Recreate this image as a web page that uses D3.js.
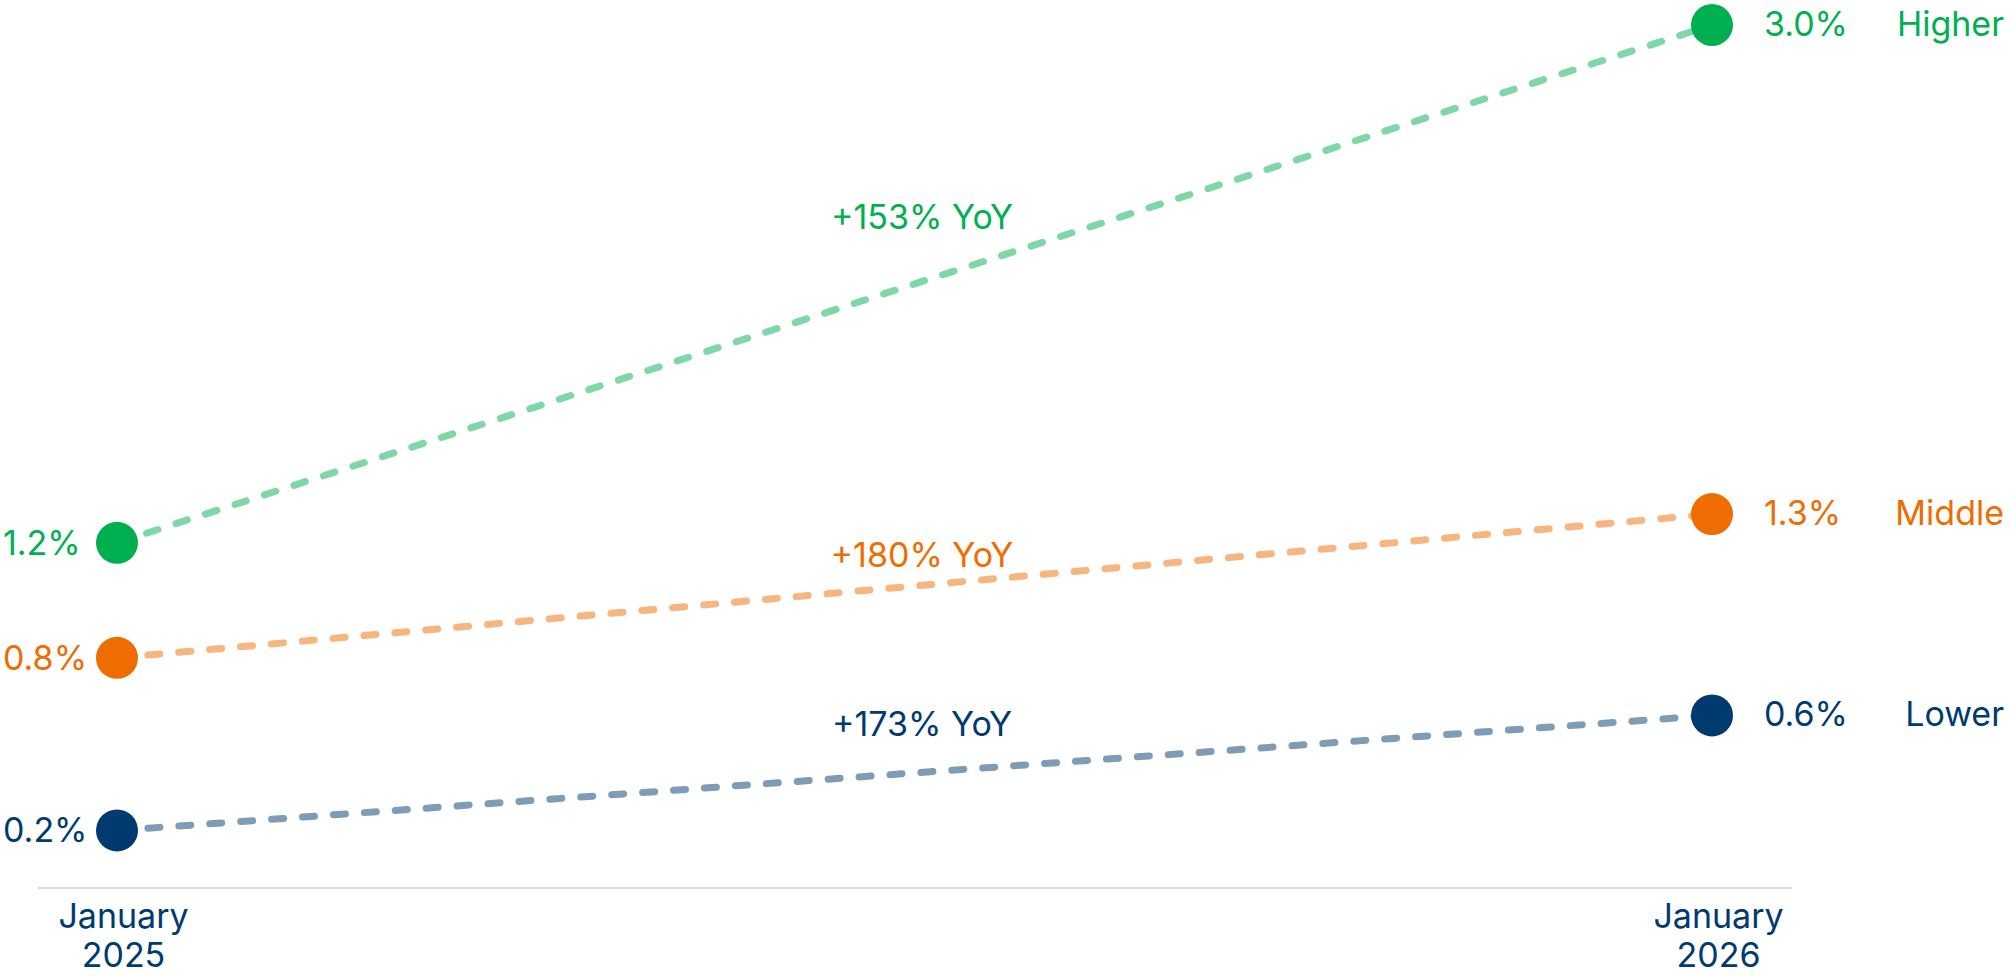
<!DOCTYPE html>
<html>
<head>
<meta charset="utf-8">
<script src="https://cdn.jsdelivr.net/npm/d3@7"></script>
<style>
  html, body { margin: 0; padding: 0; background: #ffffff; }
  svg { display: block; }
  text { font-family: Inter, "Open Sans", "DejaVu Sans", sans-serif; }
</style>
</head>
<body>
<svg id="chart" width="2009" height="976"></svg>
<script>
// ---- data ----
const periods = ["January 2025", "January 2026"];
const seriesNames = ["Higher", "Middle", "Lower"];
const startValues = [1.2, 0.8, 0.2];
const endValues = [3.0, 1.3, 0.6];
const yoyLabels = ["+153% YoY", "+180% YoY", "+173% YoY"];

// ---- styles ----
const seriesColors = ["#00b050", "#ef6c00", "#003a70"];

// ---- layout ----
const baselineY = 888;
const topY = 25;
const dotR = 21;
const fontSize = 34;
const yoyX = 922;
const yoyBaselines = [229, 567, 736];

const svg = d3.select("#chart");

const x = d3.scalePoint().domain(periods).range([117, 1712]);
const y = d3.scaleLinear().domain([0, 3.0]).range([baselineY, topY]);

const series = seriesNames.map((name, i) => ({
  name,
  color: seriesColors[i],
  yoy: yoyLabels[i],
  yoyY: yoyBaselines[i],
  points: [
    { period: periods[0], value: startValues[i] },
    { period: periods[1], value: endValues[i] }
  ]
}));

// baseline rule
svg.append("line")
  .attr("x1", 38).attr("x2", 1792)
  .attr("y1", y(0)).attr("y2", y(0))
  .attr("stroke", "#d9d9d9")
  .attr("stroke-width", 2);

// x axis labels, split over two lines
const xAxis = d3.axisBottom(x).tickSize(0);
const axisG = svg.append("g")
  .attr("transform", `translate(0,${y(0)})`)
  .call(xAxis);
axisG.select(".domain").remove();
axisG.selectAll(".tick text").remove();
axisG.selectAll(".tick").each(function(d) {
  const parts = d.split(" ");
  const t = d3.select(this).append("text")
    .attr("text-anchor", "middle")
    .attr("fill", "#003a70")
    .attr("font-size", fontSize);
  parts.forEach((p, k) => {
    t.append("tspan").attr("x", 0).attr("dx", 6).attr("y", 40 + k * 39).text(p);
  });
});

// dashed connectors
const line = d3.line().x(d => x(d.period)).y(d => y(d.value));
svg.append("g").selectAll("path")
  .data(series)
  .join("path")
  .attr("d", d => line(d.points))
  .attr("fill", "none")
  .attr("stroke", d => d.color)
  .attr("stroke-opacity", 0.5)
  .attr("stroke-width", 7)
  .attr("stroke-linecap", "round")
  .attr("stroke-dasharray", "12 19");

// dots
svg.append("g").selectAll("g")
  .data(series)
  .join("g")
  .each(function(s) {
    d3.select(this).selectAll("circle")
      .data(s.points)
      .join("circle")
      .attr("cx", d => x(d.period))
      .attr("cy", d => y(d.value))
      .attr("r", dotR)
      .attr("fill", s.color);
  });

const fmt = v => d3.format(".1f")(v) + "%";

// start value labels
svg.append("g").selectAll("text")
  .data(series)
  .join("text")
  .attr("x", 3)
  .attr("y", d => y(d.points[0].value) + 12)
  .attr("fill", d => d.color)
  .attr("font-size", fontSize)
  .text(d => fmt(d.points[0].value));

// end value labels
svg.append("g").selectAll("text")
  .data(series)
  .join("text")
  .attr("x", 1764)
  .attr("y", d => y(d.points[1].value) + 11)
  .attr("fill", d => d.color)
  .attr("font-size", fontSize)
  .text(d => fmt(d.points[1].value));

// series names
svg.append("g").selectAll("text")
  .data(series)
  .join("text")
  .attr("x", 2004)
  .attr("y", d => y(d.points[1].value) + 11)
  .attr("text-anchor", "end")
  .attr("fill", d => d.color)
  .attr("font-size", fontSize)
  .text(d => d.name);

// year-over-year annotations
svg.append("g").selectAll("text")
  .data(series)
  .join("text")
  .attr("x", yoyX)
  .attr("y", d => d.yoyY)
  .attr("text-anchor", "middle")
  .attr("fill", d => d.color)
  .attr("font-size", fontSize)
  .text(d => d.yoy);
</script>
</body>
</html>
